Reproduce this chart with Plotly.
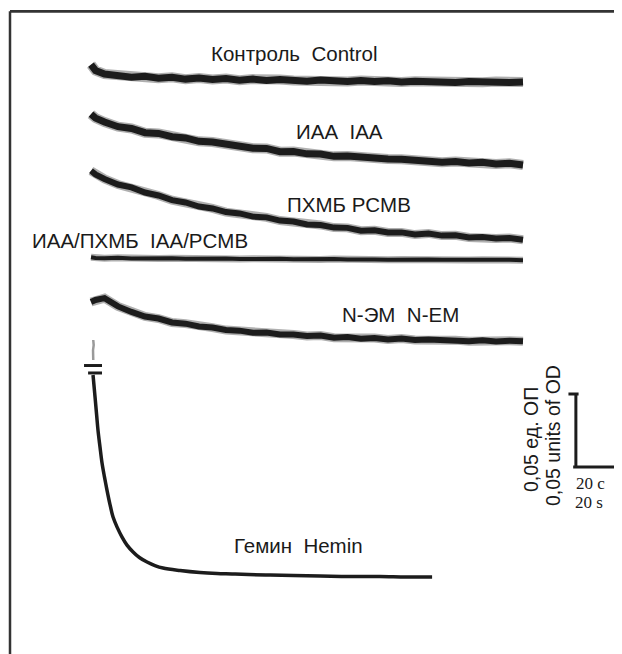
import plotly.graph_objects as go

# ---------------- data (time in s, absorbance change in mOD) ----------------
time_s = [0, 2, 6, 12, 18, 24, 30, 36, 42, 48, 54, 60, 66, 72, 78, 84, 90, 96, 102,
          108, 114, 120, 126, 132, 138, 144, 150, 156, 162, 168, 174, 180, 186, 192]

control = [3.0, -1.0, -3.4, -4.3, -5.6, -5.0, -6.3, -5.7, -6.9, -6.1, -7.2, -6.5, -7.6,
           -6.9, -7.9, -7.2, -7.8, -8.3, -7.5, -8.2, -8.6, -7.8, -8.5, -8.0, -8.9, -8.3,
           -8.8, -8.2, -9.2, -8.6, -9.1, -8.5, -9.2, -8.8]
iaa = [2.0, -0.7, -3.4, -6.6, -7.8, -10.7, -11.2, -13.5, -14.3, -16.6, -17.1, -18.9,
       -19.5, -21.4, -21.5, -23.7, -23.6, -25.2, -25.3, -26.9, -26.7, -27.8, -27.7,
       -28.8, -28.9, -29.9, -29.8, -30.9, -30.4, -31.5, -31.0, -32.2, -31.7, -32.8]
pcmb = [1.5, -1.0, -4.1, -7.9, -9.9, -13.4, -15.4, -18.6, -20.2, -23.0, -24.3, -26.8,
        -27.7, -29.9, -30.4, -32.6, -33.2, -35.3, -35.6, -37.4, -37.6, -39.5, -39.3,
        -40.8, -40.7, -42.2, -41.4, -42.9, -42.7, -44.2, -43.8, -44.9, -44.6, -45.7]
iaa_pcmb = [0.5, 0.0, -0.2, 0.1, -0.3, -0.1, -0.4, -0.2, -0.5, -0.3, -0.6, -0.4, -0.7,
            -0.5, -0.8, -0.6, -0.9, -0.7, -1.0, -0.8, -1.1, -0.9, -1.0, -1.2, -1.0,
            -1.3, -1.1, -1.3, -1.2, -1.4, -1.2, -1.4, -1.3, -1.5]
nem = [0.0, 1.4, 2.7, -3.0, -6.8, -9.9, -11.3, -14.0, -14.8, -16.8, -17.5, -19.2,
       -19.6, -21.0, -20.9, -22.3, -22.3, -23.3, -23.0, -24.4, -24.0, -25.1, -24.7,
       -25.7, -25.0, -26.0, -25.7, -26.4, -26.1, -26.8, -26.2, -27.0, -26.5, -26.9]

hemin_t = [0.9, 1.8, 2.5, 3.1, 4.0, 4.9, 6.0, 7.1, 8.4, 9.8, 11.6, 13.8, 16.0, 18.7,
           21.5, 24.9, 28.4, 32.0, 39.6, 48.4, 56, 62.7, 70, 79.6, 90, 101.8, 115,
           128.4, 140, 151.6]
hemin = [0, -15.1, -27.4, -37.7, -49.3, -60.3, -69.9, -78.8, -88.4, -97.3, -104.2,
         -111.0, -116.5, -121.2, -125.0, -128.1, -130.5, -132.2, -133.9, -135.3,
         -136.0, -136.3, -136.7, -137.0, -137.4, -137.7, -138.0, -138.0, -138.4, -138.4]
hemin_pre_t = [1.0, 1.2, 0.9, 1.1, 1.0]
hemin_pre = [24.0, 20.5, 17.0, 13.5, 10.3]

labels = ["Контроль  Control", "ИАА  IAA", "ПХМБ PCMB", "ИАА/ПХМБ  IAA/PCMB",
          "N-ЭМ  N-EM", "Гемин  Hemin"]
scale_labels = ["0,05 ед. ОП", "0,05 units of OD", "20 c", "20 s"]
scale_od = 50      # mOD
scale_time = 20    # s

# ---------------- layout constants ----------------
PAGE_MARGIN = 8            # default body margin of the html page
W, H = 622 - PAGE_MARGIN, 654 - PAGE_MARGIN
PX_PER_S = 2.25
MOD_PER_PX = 0.685
X0_PX = 91 - PAGE_MARGIN   # pixel of t = 0 inside the figure
x_range = [-X0_PX / PX_PER_S, (W - X0_PX) / PX_PER_S]
y_range = [0, H * MOD_PER_PX]

offsets = [400.7, 367.8, 329.5, 271.3, 241.1, 191.1]
widths = [7, 7, 6, 4, 6, 3.5]
ink = "#1c1c1c"

fig = go.Figure()
series = [control, iaa, pcmb, iaa_pcmb, nem]
for vals, off, w in zip(series, offsets[:5], widths[:5]):
    ys = [v + off for v in vals]
    fig.add_trace(go.Scatter(x=time_s, y=ys, mode="lines", opacity=0.35,
                             line=dict(color=ink, width=w + 3), hoverinfo="skip"))
    fig.add_trace(go.Scatter(x=time_s, y=ys, mode="lines",
                             line=dict(color=ink, width=w), hoverinfo="skip"))

fig.add_trace(go.Scatter(x=hemin_pre_t, y=[v + offsets[5] for v in hemin_pre],
                         mode="lines", line=dict(color="#9a9a9a", width=2.5),
                         hoverinfo="skip"))
fig.add_trace(go.Scatter(x=hemin_t, y=[v + offsets[5] for v in hemin], mode="lines",
                         line=dict(color=ink, width=widths[5], shape="spline"),
                         hoverinfo="skip"))

# break marks on hemin trace
shapes = []
for x0, dy in [(-3.1, 6.5), (-1.3, 1.4)]:
    shapes.append(dict(type="line", xref="x", yref="y", x0=x0, x1=4.9,
                       y0=offsets[5] + dy, y1=offsets[5] + dy,
                       line=dict(color=ink, width=3)))

# scale bar
sb_t, sb_y = 215.5, 128.1
shapes += [
    dict(type="line", xref="x", yref="y", x0=sb_t, x1=sb_t, y0=sb_y, y1=sb_y + scale_od,
         line=dict(color=ink, width=3)),
    dict(type="line", xref="x", yref="y", x0=sb_t - 1.2, x1=sb_t + scale_time,
         y0=sb_y, y1=sb_y, line=dict(color=ink, width=3)),
    dict(type="line", xref="x", yref="y", x0=sb_t - 3.3, x1=sb_t + 1.2,
         y0=sb_y + scale_od, y1=sb_y + scale_od, line=dict(color=ink, width=3)),
    dict(type="line", xref="x", yref="y", x0=sb_t + scale_time, x1=sb_t + scale_time,
         y0=sb_y - 3.5, y1=sb_y + 3.5, line=dict(color=ink, width=3)),
]

# frame (left and top edges)
fx = (10 - PAGE_MARGIN) / W
fy = 1 - (11.3 - PAGE_MARGIN) / H
shapes += [
    dict(type="line", xref="paper", yref="paper", x0=fx, x1=fx, y0=0, y1=fy,
         line=dict(color="#333", width=2.5)),
    dict(type="line", xref="paper", yref="paper", x0=fx, x1=1, y0=fy, y1=fy,
         line=dict(color="#333", width=2.7)),
]


def px2x(px):   # reference-image pixel -> time
    return (px - 91) / PX_PER_S


def py2y(py):   # reference-image pixel -> mOD
    return (654 - py) * MOD_PER_PX


label_pos = [(294, 53), (339, 131), (349, 204), (140, 240), (400, 314), (298, 545)]
annotations = []
sans = "Liberation Sans, Arial, sans-serif"
serif = "Liberation Serif, Times New Roman, serif"
for text, (px, py) in zip(labels, label_pos):
    annotations.append(dict(x=px2x(px), y=py2y(py), xref="x", yref="y", text=text,
                            showarrow=False, xanchor="center", yanchor="middle",
                            font=dict(family=sans, size=20.5, color="#1a1a1a")))

annotations += [
    dict(x=px2x(531), y=py2y(440), xref="x", yref="y", text=scale_labels[0],
         textangle=-90, showarrow=False,
         font=dict(family=sans, size=19.5, color="#1a1a1a")),
    dict(x=px2x(553), y=py2y(436), xref="x", yref="y", text=scale_labels[1],
         textangle=-90, showarrow=False,
         font=dict(family=sans, size=19.5, color="#1a1a1a")),
    dict(x=px2x(590), y=py2y(483), xref="x", yref="y", text=scale_labels[2],
         showarrow=False, font=dict(family=serif, size=17, color="#1a1a1a")),
    dict(x=px2x(589), y=py2y(502), xref="x", yref="y", text=scale_labels[3],
         showarrow=False, font=dict(family=serif, size=17, color="#1a1a1a")),
]

fig.update_layout(
    width=W, height=H, margin=dict(l=0, r=0, t=0, b=0),
    paper_bgcolor="white", plot_bgcolor="white", showlegend=False,
    xaxis=dict(range=x_range, visible=False, fixedrange=True),
    yaxis=dict(range=y_range, visible=False, fixedrange=True),
    shapes=shapes, annotations=annotations,
)

fig.write_html("out.html")
